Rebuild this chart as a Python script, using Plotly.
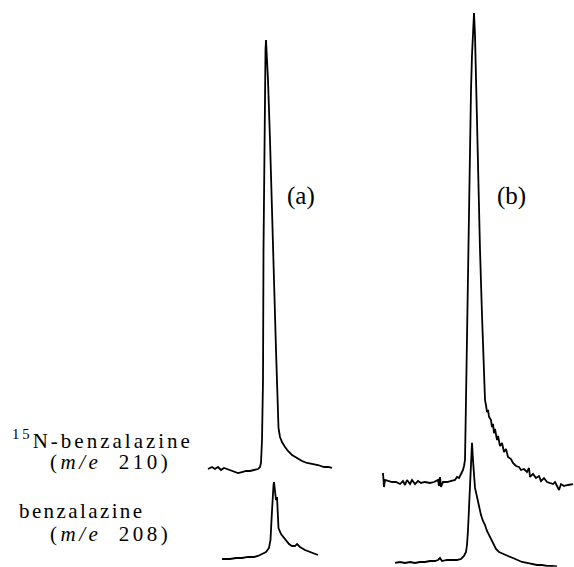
import plotly.graph_objects as go

W, H = 574, 567

# ---------------- data (time in min, intensity relative to the 15N peak = 100) -------------
# panel (a), 15N-benzalazine (m/e 210)
a210_time = [0.40, 0.60, 0.75, 0.90, 1.05, 1.20, 1.35, 1.50, 1.70, 1.90, 2.10, 2.30, 2.50, 2.70,
             2.90, 3.00, 3.05, 3.10, 3.15, 3.175, 3.225, 3.275, 3.30, 3.35, 3.40, 3.50, 3.60,
             3.70, 3.80, 3.875, 3.925, 4.00, 4.10, 4.25, 4.40, 4.60, 4.85, 5.10, 5.35, 5.60,
             5.90, 6.20, 6.40, 6.60]
a210_int = [0.23, 0.70, 0.23, 0.70, 0.0, 0.47, 0.23, 0.0, -0.23, -0.70, -0.47, -0.23, -0.23, 0.0,
            0.23, 0.70, 1.63, 6.98, 20.9, 51.2, 86.0, 97.7, 100.0, 96.5, 90.7, 76.7, 62.8,
            44.2, 27.9, 14.0, 9.77, 7.67, 6.51, 5.35, 4.42, 3.49, 2.79, 2.09, 1.63, 1.40,
            1.16, 0.70, 0.70, 0.47]

# panel (a), benzalazine (m/e 208)
a208_time = [1.10, 1.50, 1.80, 2.10, 2.40, 2.70, 2.90, 3.10, 3.30, 3.45, 3.525, 3.575, 3.625,
             3.675, 3.70, 3.75, 3.80, 3.85, 3.875, 3.925, 4.05, 4.25, 4.45, 4.60, 4.75, 4.85,
             5.00, 5.25, 5.50, 5.70, 5.90]
a208_int = [0.0, 0.0, 0.23, 0.23, 0.47, 0.47, 0.70, 1.16, 1.63, 2.56, 4.42, 9.07, 14.2,
            17.2, 17.9, 14.9, 13.7, 14.4, 10.2, 7.21, 5.81, 4.65, 3.49, 3.02, 3.02, 3.49,
            2.79, 2.09, 1.63, 1.16, 0.93]

# panel (b), 15N-benzalazine (m/e 210)
b210_time = [0.15, 0.20, 0.25, 0.40, 0.60, 0.80, 1.00, 1.15, 1.25, 1.35, 1.50, 1.60, 1.75, 1.90,
             2.05, 2.25, 2.50, 2.70, 2.90, 2.95, 3.00, 3.05, 3.15, 3.35, 3.55, 3.75, 3.85, 3.95,
             4.05, 4.15, 4.20, 4.25, 4.30, 4.35, 4.40, 4.45, 4.50, 4.55, 4.60, 4.65, 4.70,
             4.75, 4.80, 4.85, 4.90, 4.95, 5.00, 5.10, 5.20, 5.25, 5.30, 5.35, 5.40, 5.45,
             5.55, 5.60, 5.65, 5.70, 5.75, 5.85, 5.90, 6.00, 6.10, 6.20, 6.30, 6.40, 6.55,
             6.65, 6.80, 6.95, 7.05, 7.20, 7.35, 7.45, 7.50, 7.65, 7.80, 7.95, 8.05, 8.20,
             8.35, 8.50, 8.65, 8.75, 8.85, 8.95, 9.05, 9.20, 9.40, 9.65]
b210_int = [1.92, -1.07, 0.43, 0.21, 0.0, 0.0, -0.43, 0.21, -0.64, 0.43, -0.43, 0.43, -0.43, 0.21,
            -0.21, 0.0, -0.21, 0.0, 0.43, -0.85, 1.07, -1.07, 0.0, 0.0, 0.21, 0.43, 1.07, 0.85,
            1.71, 2.56, 3.41, 4.69, 17.5, 32.4, 47.3, 60.1, 72.9, 83.6, 91.0, 96.4, 100.0,
            95.3, 85.7, 75.1, 64.4, 56.9, 49.5, 35.6, 23.9, 17.5, 16.4, 14.9, 15.4, 13.9,
            13.2, 11.7, 12.4, 10.4, 11.3, 8.96, 9.81, 7.68, 8.32, 6.40, 7.04, 5.33, 4.90,
            4.05, 3.41, 3.20, 2.56, 2.77, 2.13, 2.99, 1.07, 1.71, 0.85, 1.28, 0.21, 0.85,
            0.0, -0.21, -0.43, 0.0, -1.07, -1.71, -0.43, -0.85, -0.64, -0.43]

# panel (b), benzalazine (m/e 208)
b208_time = [0.75, 1.00, 1.25, 1.50, 1.75, 2.00, 2.25, 2.50, 2.75, 2.90, 3.00, 3.10, 3.35, 3.60,
             3.85, 4.05, 4.20, 4.30, 4.35, 4.40, 4.45, 4.50, 4.55, 4.60, 4.65, 4.70, 4.75,
             4.85, 4.95, 5.05, 5.15, 5.25, 5.35, 5.50, 5.65, 5.80, 5.95, 6.15, 6.40, 6.65,
             6.90, 7.10, 7.35, 7.60, 7.85, 8.10, 8.35, 8.60, 8.85]
b208_int = [-0.21, 0.0, -0.21, 0.0, -0.21, 0.0, 0.0, 0.21, 0.21, 0.43, 0.85, 0.21, 0.43, 0.43,
            0.43, 0.64, 1.28, 2.13, 3.62, 6.82, 12.2, 18.6, 22.8, 25.4, 21.7, 17.9, 15.8,
            13.9, 11.9, 10.0, 8.74, 7.89, 6.61, 5.33, 4.05, 2.77, 2.13, 1.71, 1.28, 0.85,
            0.43, 0.0, -0.21, -0.43, -0.64, -0.64, -0.85, -0.85, -0.96]

panel_labels = ["(a)", "(b)"]
trace_labels = ["<sup>15</sup>N-benzalazine", "(<i>m/e</i>\u00a0\u00a0210)",
                "benzalazine", "(<i>m/e</i>\u00a0\u00a0208)"]

FONT = "Liberation Serif"

# ---------------- layout helpers (pixel placement of each trace's axes) -------------
def xdom(px0, px1):
    return [max(0, px0 / W), min(1, px1 / W)]

def ydom(base_px, peak_px, lo, hi):
    ppu = (base_px - peak_px) / 100.0
    bottom = base_px - lo * ppu
    top = base_px - hi * ppu
    return [max(0.0, (H - bottom) / H), min(1.0, (H - top) / H)]

line = dict(color="black", width=1.8)
fig = go.Figure()
fig.add_trace(go.Scatter(x=a210_time, y=a210_int, mode="lines", line=line, xaxis="x", yaxis="y"))
fig.add_trace(go.Scatter(x=a208_time, y=a208_int, mode="lines", line=line, xaxis="x", yaxis="y2"))
fig.add_trace(go.Scatter(x=b210_time, y=b210_int, mode="lines", line=line, xaxis="x2", yaxis="y3"))
fig.add_trace(go.Scatter(x=b208_time, y=b208_int, mode="lines", line=line, xaxis="x2", yaxis="y4"))

hid = dict(visible=False, showgrid=False, zeroline=False, fixedrange=True)
fig.update_layout(
    width=W, height=H, margin=dict(l=0, r=0, t=0, b=0),
    paper_bgcolor="white", plot_bgcolor="rgba(0,0,0,0)", showlegend=False,
    xaxis=dict(domain=xdom(200, 340), range=[0, 7], anchor="y", **hid),
    xaxis2=dict(domain=xdom(380, 574), range=[0, 9.7], anchor="y3", **hid),
    yaxis=dict(domain=ydom(470, 40, -5, 105), range=[-5, 105], anchor="x", **hid),
    yaxis2=dict(domain=ydom(559, 129, -1.4, 25), range=[-1.4, 25], anchor="x", **hid),
    yaxis3=dict(domain=ydom(482, 13, -5, 102), range=[-5, 102], anchor="x2", **hid),
    yaxis4=dict(domain=ydom(562, 93, -1.0, 30), range=[-1.0, 30], anchor="x2", **hid),
    font=dict(family=FONT, color="black", size=21),
)

def ann(text, px, py, size, xanchor="left", spacing=None):
    if spacing:
        text = '<span style="letter-spacing:%spx">%s</span>' % (spacing, text)
    fig.add_annotation(text=text, xref="paper", yref="paper", x=px / W, y=1 - py / H,
                       xanchor=xanchor, yanchor="middle", showarrow=False,
                       font=dict(size=size, family=FONT, color="black"))

ann(panel_labels[0], 301, 196, 25, xanchor="center")
ann(panel_labels[1], 511, 196, 25, xanchor="center")
ann(trace_labels[0], 10, 439, 21, spacing=3)
ann(trace_labels[1], 48, 462, 21, spacing=3.5)
ann(trace_labels[2], 17, 511, 21, spacing=2.4)
ann(trace_labels[3], 48, 534, 21, spacing=3.5)

fig.write_html("out.html", config={"displayModeBar": False},
               post_script="document.body.style.margin='0';")
